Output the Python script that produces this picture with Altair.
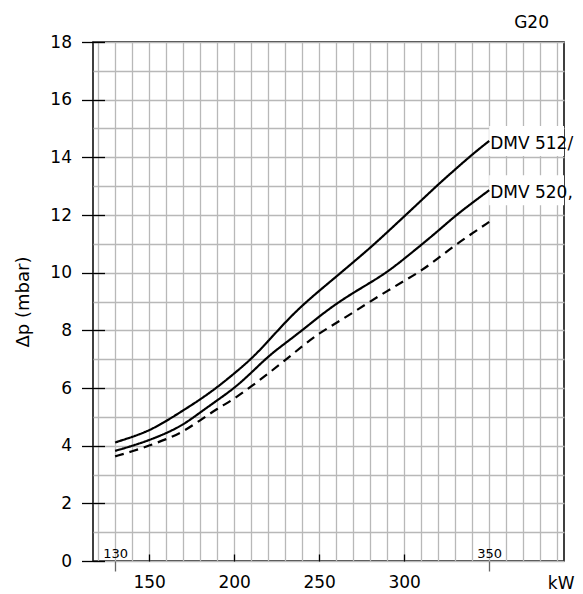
import altair as alt
import pandas as pd

# ---- data ----
kw = [130, 140, 150, 160, 170, 180, 190, 200, 210, 220, 230, 240,
      250, 260, 270, 280, 290, 300, 310, 320, 330, 340, 350]
dmv512 = [4.11, 4.30, 4.52, 4.85, 5.22, 5.60, 6.02, 6.50, 7.00, 7.62, 8.28, 8.86,
          9.37, 9.86, 10.36, 10.86, 11.40, 11.95, 12.50, 13.06, 13.58, 14.10, 14.57]
dmv520 = [3.82, 3.99, 4.19, 4.43, 4.72, 5.15, 5.57, 5.99, 6.52, 7.10, 7.55, 8.00,
          8.48, 8.92, 9.30, 9.65, 10.02, 10.48, 10.96, 11.45, 11.97, 12.42, 12.86]
dashed = [3.63, 3.80, 4.00, 4.22, 4.48, 4.88, 5.28, 5.62, 6.05, 6.50, 6.96, 7.45,
          7.90, 8.25, 8.62, 9.00, 9.36, 9.72, 10.06, 10.50, 10.96, 11.36, 11.76]
series_names = ["DMV 512/", "DMV 520,", "dashed"]
label_texts = ["DMV 512/", "DMV 520,"]
corner_text = ["G20"]

x_domain = [117, 394]
y_domain = [0, 18]
x_grid = list(range(120, 391, 10))
y_grid = list(range(0, 19, 1))
x_major = [150, 200, 250, 300]
x_minor = [130, 350]
y_major = list(range(0, 19, 2))

rows = []
for name, vals in zip(series_names, [dmv512, dmv520, dashed]):
    for k, v in zip(kw, vals):
        rows.append({"kW": k, "dp": v, "series": name})
df = pd.DataFrame(rows)

lab = pd.DataFrame({
    "text": label_texts,
    "kW": [kw[-1], kw[-1]],
    "kW2": [x_domain[1], x_domain[1]],
    "dp": [dmv512[-1], dmv520[-1]],
    "lo": [dmv512[-1] - 0.52, dmv520[-1] - 0.52],
    "hi": [dmv512[-1] + 0.52, dmv520[-1] + 0.52],
})
corner = pd.DataFrame({"text": corner_text, "kW": [x_domain[1]], "dp": [y_domain[1]]})

FONT = "DejaVu Sans"
xs = alt.Scale(domain=x_domain, nice=False, zero=False)
ys = alt.Scale(domain=y_domain, nice=False, zero=False)

grid_layer = alt.Chart(df).mark_point(opacity=0).encode(
    x=alt.X("kW:Q", scale=xs, axis=alt.Axis(
        values=x_grid, grid=True, gridColor="#b8b8b8", gridWidth=1.3,
        ticks=False, labels=False, domain=False, title=None, orient="bottom")),
    y=alt.Y("dp:Q", scale=ys, axis=alt.Axis(
        values=y_grid, grid=True, gridColor="#b8b8b8", gridWidth=1.3,
        ticks=False, labels=False, domain=False, title=None, orient="left")),
)

lines = alt.Chart(df).mark_line(color="black", strokeWidth=2.2, interpolate="basis").encode(
    x=alt.X("kW:Q", scale=xs, axis=alt.Axis(
        values=x_major, orient="bottom", offset=-7, tickSize=7, tickColor="black",
        tickWidth=1.3, domain=False, grid=False, labelFontSize=17, labelFont=FONT,
        labelColor="black", labelPadding=13, labelFlush=False,
        title="kW", titleFont=FONT, titleFontSize=17, titleFontWeight="normal",
        titleColor="black", titleAlign="right", titleBaseline="alphabetic",
        titleX=481, titleY=34)),
    y=alt.Y("dp:Q", scale=ys, axis=alt.Axis(
        values=y_major, orient="left", offset=-11.5, tickSize=23, tickColor="black",
        tickWidth=1.3, domain=False, grid=False, labelFontSize=17, labelFont=FONT,
        labelColor="black", labelPadding=10,
        title="Δp (mbar)", titleFont=FONT, titleFontSize=18, titleFontWeight="normal",
        titleColor="black", titlePadding=17)),
    strokeDash=alt.StrokeDash("series:N", scale=alt.Scale(
        domain=series_names, range=[[1, 0], [1, 0], [9, 6]]), legend=None),
)

minor_axis = alt.Chart(df).mark_point(opacity=0).encode(
    x=alt.X("kW:Q", scale=xs, axis=alt.Axis(
        values=x_minor, orient="bottom", tickSize=10, tickColor="#666", tickWidth=1.3,
        domain=False, grid=False, labelFontSize=13, labelFont=FONT, labelColor="black",
        labelBaseline="alphabetic", labelPadding=-14, title=None)),
    y=alt.Y("dp:Q", scale=ys, axis=None),
)

boxes = alt.Chart(lab).mark_rect(color="white").encode(
    x=alt.X("kW:Q", scale=xs, axis=None), x2="kW2:Q",
    y=alt.Y("lo:Q", scale=ys, axis=None), y2="hi:Q",
)

texts = alt.Chart(lab).mark_text(
    align="left", baseline="middle", dx=1, dy=3, fontSize=17, font=FONT, color="black"
).encode(
    x=alt.X("kW:Q", scale=xs, axis=None), y=alt.Y("dp:Q", scale=ys, axis=None), text="text:N",
)

g20 = alt.Chart(corner).mark_text(
    align="right", baseline="alphabetic", dx=-15, dy=-14, fontSize=17, font=FONT, color="black"
).encode(
    x=alt.X("kW:Q", scale=xs, axis=None), y=alt.Y("dp:Q", scale=ys, axis=None), text="text:N",
)

chart = alt.layer(grid_layer, minor_axis, boxes, lines, texts, g20).resolve_axis(
    x="independent", y="independent"
).properties(
    width=471, height=519,
    autosize=alt.AutoSizeParams(type="none"),
    padding={"left": 85, "top": 34, "right": 11, "bottom": 30},
).configure_view(stroke="black", strokeWidth=1.5)

chart.save("out.html", embed_options={"renderer": "svg", "actions": False})
